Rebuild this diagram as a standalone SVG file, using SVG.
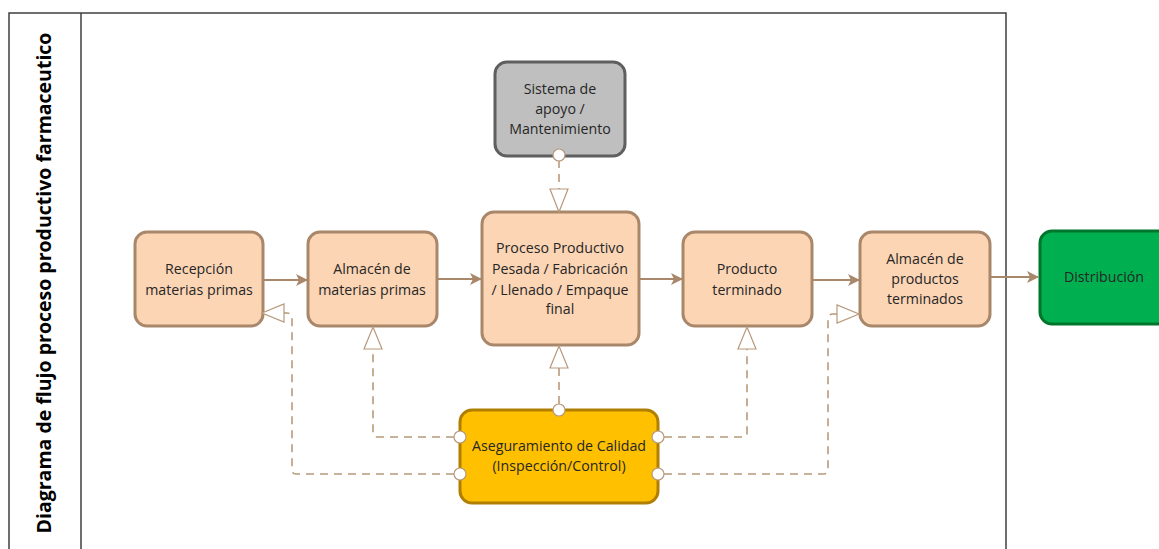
<svg xmlns="http://www.w3.org/2000/svg" width="1159" height="549" viewBox="0 0 1159 549">
  <style>
    .frame { fill: none; stroke: #3f3f3f; stroke-width: 1.5; }
    .box { stroke-width: 3; }
    .peach { fill: #fcd5b5; stroke: #a8876a; }
    .gray { fill: #bfbfbf; stroke: #5f5f5f; }
    .green { fill: #00b050; stroke: #00762c; }
    .gold { fill: #ffc000; stroke: #b07e00; }
    .lbl { font-family: "Open Sans", "Noto Sans", sans-serif; font-size: 14.2px; fill: #262626; text-anchor: middle; }
    .title { font-family: "Open Sans", "Noto Sans", sans-serif; font-size: 19.5px; font-weight: bold; fill: #000; text-anchor: middle; }
    .flow { fill: none; stroke: #a8876a; stroke-width: 2; }
    .dash { fill: none; stroke: #b8997b; stroke-width: 1.6; stroke-dasharray: 8 6; }
    .head { fill: #fff; stroke: #b8997b; stroke-width: 1.2; }
    .port { fill: #fff; stroke: #b8997b; stroke-width: 1.2; }
  </style>
  <defs>
    <marker id="solid" viewBox="0 0 12 12" refX="11" refY="6" markerWidth="12" markerHeight="12" markerUnits="userSpaceOnUse" orient="auto">
      <path d="M0,0 L12,6 L0,12 L3,6 Z" fill="#a8876a"/>
    </marker>
  </defs>

  <!-- pool frame and lane title -->
  <g id="pool">
    <path class="frame" d="M9,550 V13 H1006 V550"/>
    <line class="frame" x1="81" y1="13" x2="81" y2="550"/>
    <text class="title" transform="translate(51,283) rotate(-90)">Diagrama de flujo proceso productivo farmaceutico</text>
  </g>

  <g id="recepcion">
    <rect class="box peach" x="135" y="232" width="128" height="94" rx="12"/>
    <text class="lbl" x="199" y="274">Recepción</text>
    <text class="lbl" x="199" y="295">materias primas</text>
  </g>

  <g id="almacen-mp">
    <rect class="box peach" x="308" y="232" width="129" height="94" rx="12"/>
    <text class="lbl" x="372" y="274">Almacén de</text>
    <text class="lbl" x="372" y="295">materias primas</text>
  </g>

  <g id="sistema-apoyo">
    <rect class="box gray" x="495" y="62" width="130" height="94" rx="12"/>
    <text class="lbl" x="560" y="94">Sistema de</text>
    <text class="lbl" x="560" y="114">apoyo /</text>
    <text class="lbl" x="560" y="134">Mantenimiento</text>
  </g>

  <g id="proceso-productivo">
    <rect class="box peach" x="482" y="212" width="157" height="133" rx="12"/>
    <text class="lbl" x="560" y="253">Proceso Productivo</text>
    <text class="lbl" x="560" y="274">Pesada / Fabricación</text>
    <text class="lbl" x="560" y="295">/ Llenado / Empaque</text>
    <text class="lbl" x="560" y="314">final</text>
  </g>

  <g id="producto-terminado">
    <rect class="box peach" x="683" y="232" width="129" height="94" rx="12"/>
    <text class="lbl" x="747" y="274">Producto</text>
    <text class="lbl" x="747" y="295">terminado</text>
  </g>

  <g id="almacen-pt">
    <rect class="box peach" x="860" y="232" width="130" height="94" rx="12"/>
    <text class="lbl" x="925" y="264">Almacén de</text>
    <text class="lbl" x="925" y="284">productos</text>
    <text class="lbl" x="925" y="304">terminados</text>
  </g>

  <g id="distribucion">
    <rect class="box green" x="1040" y="231" width="130" height="93" rx="12"/>
    <text class="lbl" x="1104" y="282">Distribución</text>
  </g>

  <g id="aseguramiento-calidad">
    <rect class="box gold" x="460" y="410" width="198" height="93" rx="12"/>
    <text class="lbl" x="559" y="451">Aseguramiento de Calidad</text>
    <text class="lbl" x="559" y="471">(Inspección/Control)</text>
  </g>

  <!-- connectors, drawn over the node borders -->
  <g id="connectors">
    <line class="flow" x1="264" y1="280" x2="307" y2="280" marker-end="url(#solid)"/>
    <line class="flow" x1="438" y1="279" x2="481" y2="279" marker-end="url(#solid)"/>
    <line class="flow" x1="640" y1="279" x2="682" y2="279" marker-end="url(#solid)"/>
    <line class="flow" x1="813" y1="280" x2="859" y2="280" marker-end="url(#solid)"/>
    <line class="flow" x1="991" y1="277" x2="1038" y2="277" marker-end="url(#solid)"/>

    <!-- support system to production -->
    <path class="dash" d="M559,160 V189"/>
    <path class="head" d="M550,189 L568,189 L559,212 Z"/>
    <circle class="port" cx="559" cy="155" r="6"/>

    <!-- quality assurance links -->
    <path class="dash" d="M559,404 V368"/>
    <path class="head" d="M550,368 L568,368 L559,346 Z"/>

    <path class="dash" d="M454,437 H377 Q373,437 373,433 V349"/>
    <path class="head" d="M364,349 L382,349 L373,327 Z"/>

    <path class="dash" d="M454,474 H296 Q292,474 292,470 V318 Q292,313 287,313 H284"/>
    <path class="head" d="M284,304 L284,322 L262,313 Z"/>

    <path class="dash" d="M664,437 H743 Q747,437 747,433 V349"/>
    <path class="head" d="M738,349 L756,349 L747,327 Z"/>

    <path class="dash" d="M664,474 H824 Q828,474 828,470 V319 Q828,314 833,314 H837"/>
    <path class="head" d="M837,305 L837,323 L859,314 Z"/>

    <circle class="port" cx="559" cy="410" r="6"/>
    <circle class="port" cx="460" cy="437" r="6"/>
    <circle class="port" cx="460" cy="474" r="6"/>
    <circle class="port" cx="658" cy="437" r="6"/>
    <circle class="port" cx="658" cy="474" r="6"/>
  </g>
</svg>
